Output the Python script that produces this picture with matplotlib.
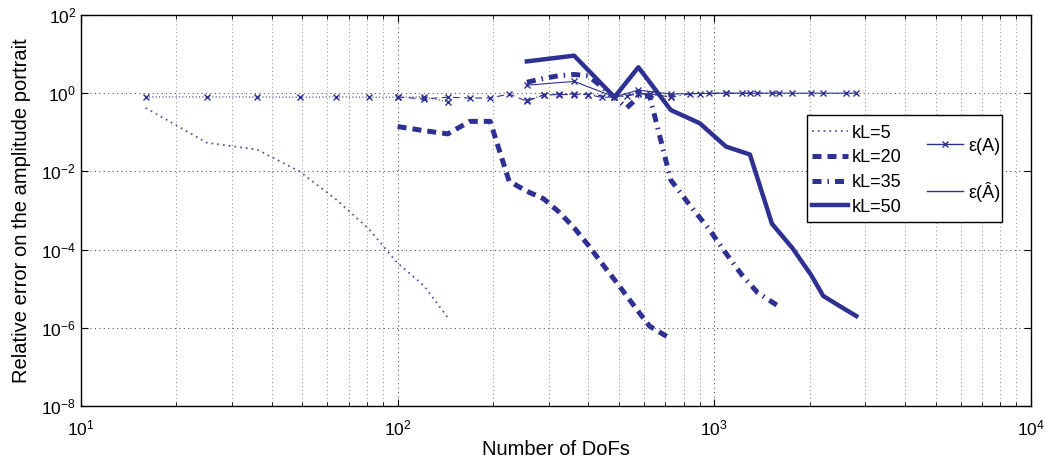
import numpy as np
import matplotlib
matplotlib.use("Agg")
import matplotlib.pyplot as plt
from matplotlib.lines import Line2D
from matplotlib.patches import Rectangle
from matplotlib.ticker import LogLocator, NullLocator

plt.rcParams['font.family'] = ['Liberation Sans', 'DejaVu Sans']
plt.rcParams['mathtext.fontset'] = 'custom'
plt.rcParams['mathtext.rm'] = 'Liberation Sans'
plt.rcParams['mathtext.it'] = 'Liberation Sans:italic'

col = '#2E3192'

# kL=5
x5 = [16, 25, 36, 49, 64, 81, 100, 121, 144]
eA5 = [0.80, 0.80, 0.80, 0.79, 0.80, 0.79, 0.79, 0.80, 0.60]
eAh5 = [0.42, 0.054, 0.036, 0.010, 0.0019, 3.4e-4, 4.5e-5, 1.2e-5, 1.8e-6]

# kL=20
x20 = [100, 121, 144, 169, 196, 225, 256, 289, 324, 361, 400, 441, 484, 576, 625, 729]
eA20 = [0.80, 0.71, 0.79, 0.75, 0.75, 0.95, 0.62, 0.90, 0.92, 0.92, 0.92, 0.78, 0.80, 0.95, 0.95, 0.80]
eAh20 = [0.14, 0.11, 0.091, 0.19, 0.19, 0.0056, 3.1e-3, 2.0e-3, 9e-4, 3.6e-4, 1.3e-4,
         4.5e-5, 1.7e-5, 2.6e-6, 1.1e-6, 5.2e-7]

# kL=35
x35 = [256, 289, 324, 361, 400, 484, 529, 576, 625, 729, 841, 961, 1089, 1225, 1369, 1600]
eA35 = [0.65, 0.90, 0.95, 0.95, 0.92, 0.80, 0.85, 1.0, 0.95, 0.80, 0.95, 1.0, 1.0, 1.0, 1.0, 1.0]
eAh35 = [1.9, 2.4, 2.8, 3.0, 2.8, 0.79, 0.42, 0.80, 0.85, 6e-3, 1.3e-3, 3.4e-4, 8e-5,
         2.2e-5, 8e-6, 3.5e-6]

# kL=50
x50 = [256, 361, 484, 576, 729, 900, 1089, 1296, 1521, 1764, 2025, 2209, 2601, 2809]
eA50 = [1.6, 2.0, 0.80, 1.2, 0.95, 0.98, 1.0, 1.0, 1.0, 1.0, 1.0, 1.0, 1.0, 1.0]
eAh50 = [6.5, 9.1, 0.79, 4.6, 0.37, 0.17, 0.043, 0.027, 4.6e-4, 1.1e-4, 2.2e-5,
         6.5e-6, 2.9e-6, 2.0e-6]

fig = plt.figure(figsize=(10.45, 4.59), dpi=100)
ax = fig.add_axes([0.0775, 0.1155, 0.909, 0.8519])

ms = 4.5
# error on A (thin with x markers)
ax.loglog(x5, eA5, color=col, lw=0.8, ls=(0, (1, 2)), marker='x', ms=ms, mew=1)
ax.loglog(x20, eA20, color=col, lw=0.8, ls=(0, (6, 4)), marker='x', ms=ms, mew=1)
ax.loglog(x35, eA35, color=col, lw=0.8, ls=(0, (6, 3, 1, 3)), marker='x', ms=ms, mew=1)
ax.loglog(x50, eA50, color=col, lw=0.8, ls='-', marker='x', ms=ms, mew=1)

# error on A-hat (thick)
ax.loglog(x5, eAh5, color=col, lw=1.3, ls=(0, (1, 2.2)), alpha=0.8)
ax.loglog(x20, eAh20, color=col, lw=3.6, ls=(0, (1.8, 1.2)))
ax.loglog(x35, eAh35, color=col, lw=3.6, ls=(0, (1.8, 1.2, 0.3, 1.2)))
ax.loglog(x50, eAh50, color=col, lw=3.2, ls='-')

ax.set_xlim(10, 1e4)
ax.set_ylim(1e-8, 1e2)
ax.xaxis.set_major_locator(LogLocator(base=10, numticks=10))
ax.xaxis.set_minor_locator(LogLocator(base=10, subs=np.arange(2, 10), numticks=20))
ax.set_yticks([1e-8, 1e-6, 1e-4, 1e-2, 1, 1e2])
ax.yaxis.set_minor_locator(NullLocator())

ax.grid(True, which='major', ls=(0, (1, 3)), color='#555555', lw=0.8)
ax.grid(True, which='minor', axis='x', ls=(0, (1, 3)), color='#888888', lw=0.7)
ax.tick_params(which='both', direction='in', top=True, right=True, labelsize=12.5)
ax.tick_params(axis='x', which='both', pad=9)
ax.tick_params(which='major', length=5)
ax.tick_params(which='minor', length=3)
for s in ax.spines.values():
    s.set_linewidth(1.0)

ax.set_xlabel('Number of DoFs', fontsize=14.5, labelpad=1)
ax.set_ylabel('Relative error on the amplitude portrait', fontsize=14.5, labelpad=7)

# legend: two groups inside one framed box
h1 = [Line2D([], [], color=col, lw=1.3, ls=(0, (1, 2.2)), alpha=0.8),
      Line2D([], [], color=col, lw=3.6, ls=(0, (1.8, 1.2))),
      Line2D([], [], color=col, lw=3.6, ls=(0, (1.8, 1.2, 0.3, 1.2))),
      Line2D([], [], color=col, lw=3.2, ls='-')]
leg1 = ax.legend(h1, ['kL=5', 'kL=20', 'kL=35', 'kL=50'], loc='upper left',
                 bbox_to_anchor=(0.764, 0.733), frameon=False, fontsize=13,
                 handlelength=2.0, handletextpad=0.2, labelspacing=0.42,
                 borderaxespad=0, borderpad=0.3)
ax.add_artist(leg1)
h2 = [Line2D([], [], color=col, lw=1.0, marker='x', ms=ms, mew=1),
      Line2D([], [], color=col, lw=1.0)]
leg2 = ax.legend(h2, ['ε(A)', 'ε(Â)'], loc='upper left', bbox_to_anchor=(0.885, 0.70),
                 frameon=False, fontsize=13, handlelength=2.0, handletextpad=0.3,
                 labelspacing=1.5, borderaxespad=0, borderpad=0.3)
ax.add_patch(Rectangle((0.764, 0.471), 0.2055, 0.273, transform=ax.transAxes,
                       fill=True, facecolor='white', edgecolor='black', lw=1.0,
                       zorder=4))
leg1.set_zorder(5)
leg2.set_zorder(5)

fig.savefig('out.png', dpi=100)
